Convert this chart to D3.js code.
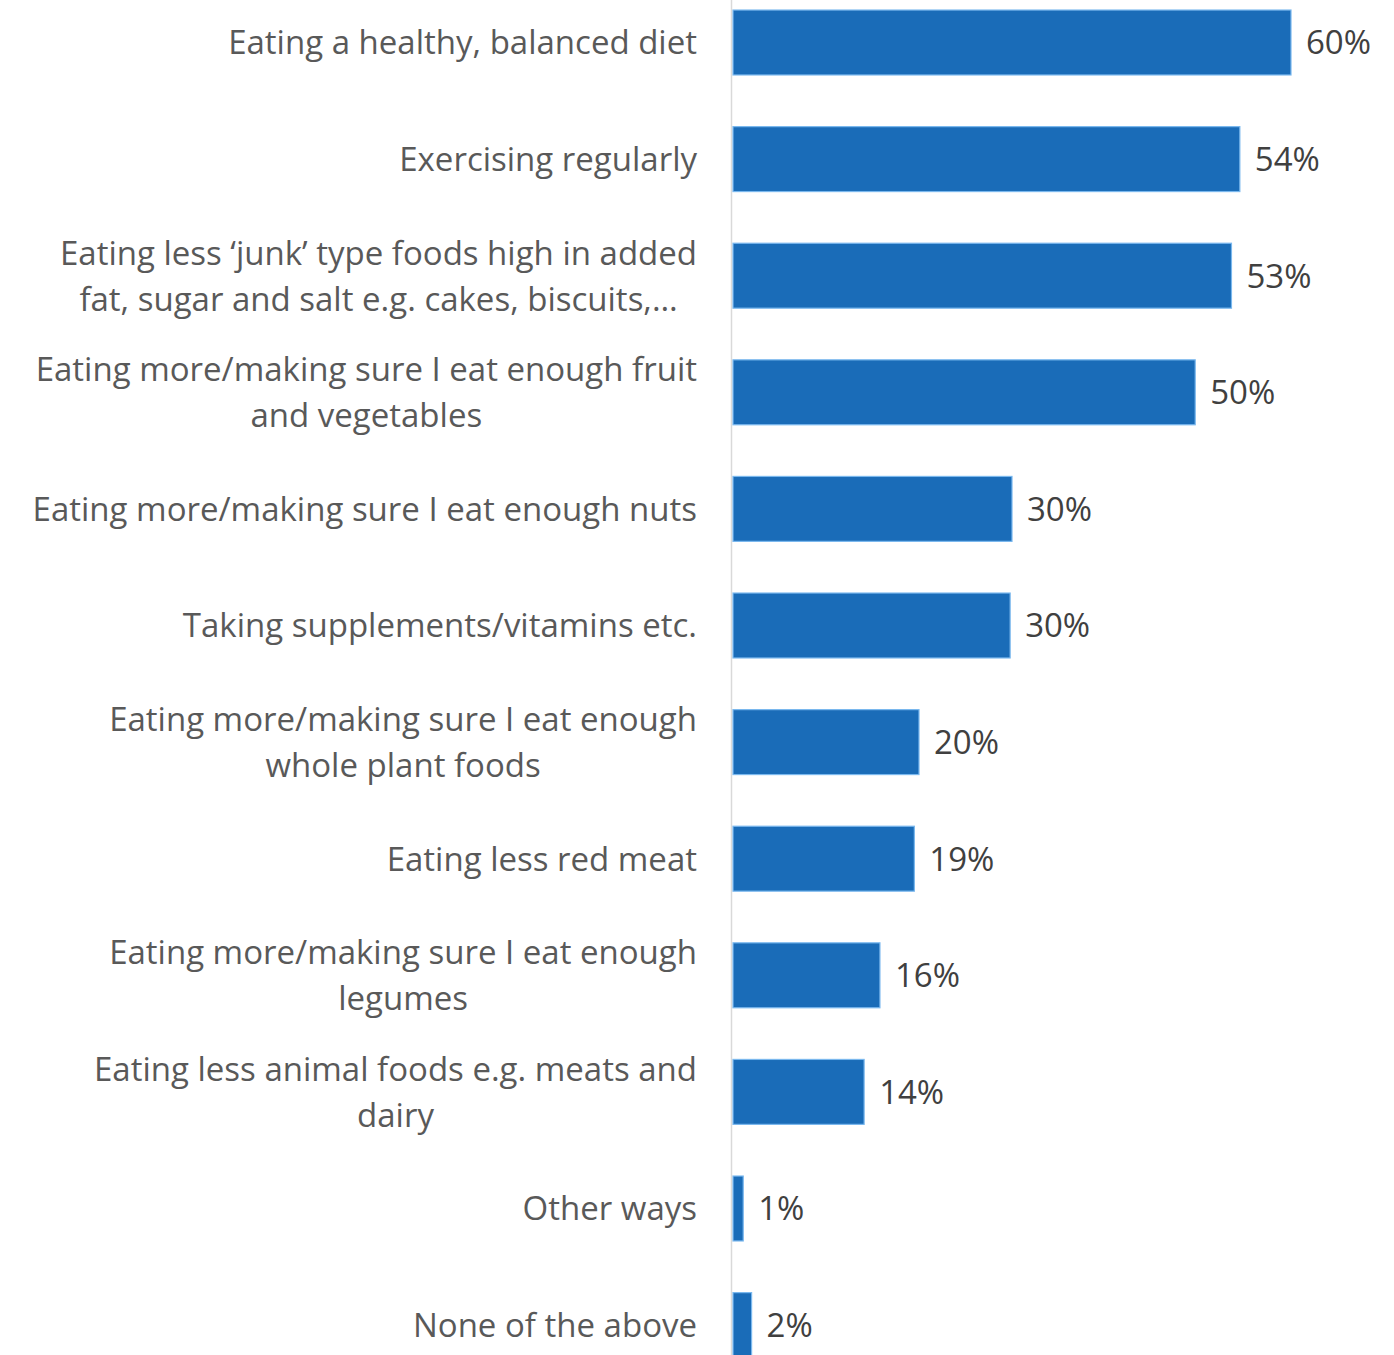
<!DOCTYPE html>
<html>
<head>
<meta charset="utf-8">
<script src="https://cdn.jsdelivr.net/npm/d3@7"></script>
<style>
  body { margin: 0; background: #fff; }
  text { font-family: "Open Sans", sans-serif; }
</style>
</head>
<body>
<svg id="chart" width="1394" height="1355"></svg>
<script>
// categories, one array of lines per bar
var categories = [
	["Eating a healthy, balanced diet"],
	["Exercising regularly"],
	["Eating less \u2018junk\u2019 type foods high in added", "fat, sugar and salt e.g. cakes, biscuits,\u2026"],
	["Eating more/making sure I eat enough fruit", "and vegetables"],
	["Eating more/making sure I eat enough nuts"],
	["Taking supplements/vitamins etc."],
	["Eating more/making sure I eat enough", "whole plant foods"],
	["Eating less red meat"],
	["Eating more/making sure I eat enough", "legumes"],
	["Eating less animal foods e.g. meats and", "dairy"],
	["Other ways"],
	["None of the above"]
];
// bar lengths, labels as printed
var values = [60, 54.5, 53.6, 49.7, 30, 29.8, 20, 19.5, 15.8, 14.1, 1.1, 2];
var valueLabels = ["60%", "54%", "53%", "50%", "30%", "30%", "20%", "19%", "16%", "14%", "1%", "2%"];

(function () {
	var svg = d3.select('#chart');
	var labelRight = 697;
	var fontSize = 33;

	var x = d3.scaleLinear()
		.domain([0, 60])
		.range([733, 1291]);

	var y = d3.scaleBand()
		.domain(d3.range(values.length))
		.range([-15.8, 1383.4])
		.paddingInner(0.443)
		.paddingOuter(0.2215);

	// axis line
	svg.append('line')
		.attr('x1', 731.5).attr('x2', 731.5)
		.attr('y1', 0).attr('y2', 1355)
		.attr('stroke', '#d9d9d9')
		.attr('stroke-width', 1.5);

	svg.selectAll('rect.bar')
		.data(values)
		.enter().append('rect')
		.attr('class', 'bar')
		.attr('x', x(0))
		.attr('y', function (d, i) { return y(i); })
		.attr('width', function (d) { return x(d) - x(0); })
		.attr('height', y.bandwidth())
		.attr('fill', '#1a6cb8')
		.attr('stroke', '#7ab8ee')
		.attr('stroke-width', 1.2);

	svg.selectAll('text.val')
		.data(values)
		.enter().append('text')
		.attr('class', 'val')
		.attr('x', function (d) { return x(d) + 15; })
		.attr('y', function (d, i) { return y(i) + y.bandwidth() / 2; })
		.attr('dy', '0.36em')
		.attr('font-size', fontSize)
		.attr('fill', '#404040')
		.text(function (d, i) { return valueLabels[i]; });

	// category labels: block right aligned, lines centred in block
	categories.forEach(function (lines, i) {
		var cy = y(i) + y.bandwidth() / 2;
		var g = svg.append('g');
		var texts = lines.map(function (line, j) {
			return g.append('text')
				.attr('y', cy + (j - (lines.length - 1) / 2) * 46)
				.attr('dy', '0.36em')
				.attr('font-size', fontSize)
				.attr('fill', '#595959')
				.attr('text-anchor', 'middle')
				.text(line);
		});
		var maxW = d3.max(texts, function (t) { return t.node().getComputedTextLength(); });
		texts.forEach(function (t) { t.attr('x', labelRight - maxW / 2); });
	});
}());
</script>
</body>
</html>
